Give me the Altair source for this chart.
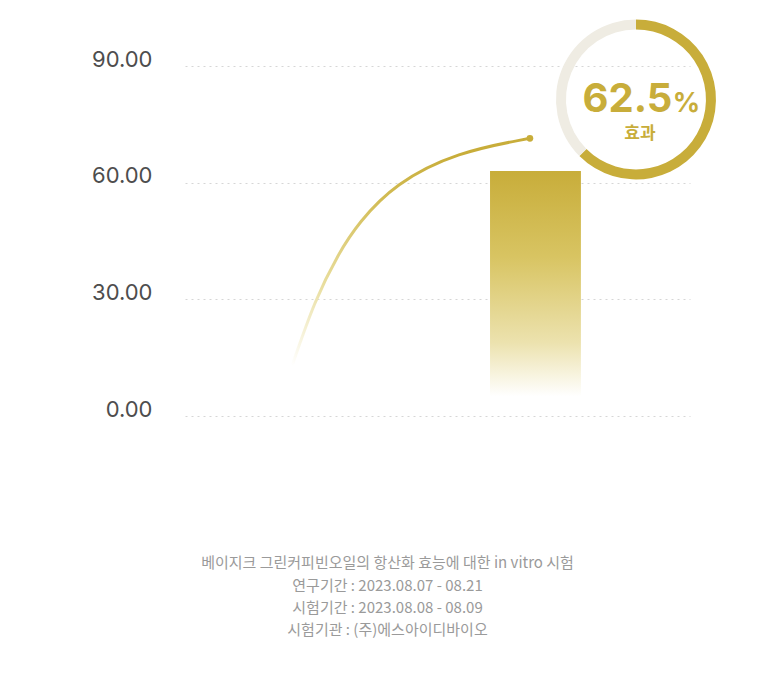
import altair as alt
import pandas as pd

# ---- data ----
curve_x = [21.2, 25.7, 30.4, 34.3, 41.6, 53.9, 68.3]
curve_y = [12.9, 29.8, 41.8, 49.6, 59.8, 67.9, 71.4]

bar_x_start = [60.4]
bar_x_end = [78.4]
bar_value = [63.0]

donut_labels = ["효과", "나머지"]
donut_values = [62.5, 37.5]
donut_colors = ["#C8AD3A", "#EFECE3"]
donut_center_x = [89.3]
donut_center_y = [81.4]

y_ticks = [0, 30, 60, 90]

title_line = "베이지크 그린커피빈오일의 항산화 효능에 대한 in vitro 시험"
subtitle_lines = [
    "연구기간 : 2023.08.07 - 08.21",
    "시험기간 : 2023.08.08 - 08.09",
    "시험기관 : (주)에스아이디바이오",
]

GOLD = "#C8AD3A"

xs = alt.Scale(domain=[0, 100], nice=False)
ys = alt.Scale(domain=[0, 90], nice=False)

curve_df = pd.DataFrame({"x": curve_x, "y": curve_y, "i": list(range(len(curve_x)))})
end_df = pd.DataFrame({"x": [curve_x[-1]], "y": [curve_y[-1]]})
bar_df = pd.DataFrame({"x": bar_x_start, "x2": bar_x_end, "v": bar_value})
donut_df = pd.DataFrame({
    "k": donut_labels, "v": donut_values, "o": [0, 1],
    "cx": donut_center_x * 2, "cy": donut_center_y * 2,
})

bar = alt.Chart(bar_df).mark_rect(
    color=alt.Gradient(
        gradient="linear",
        stops=[
            alt.GradientStop(color="#C8AD3A", offset=0),
            alt.GradientStop(color="#D8C462", offset=0.35),
            alt.GradientStop(color="#ECE2AE", offset=0.7),
            alt.GradientStop(color="#FFFFFF", offset=0.92),
            alt.GradientStop(color="#FFFFFF", offset=1),
        ],
        x1=0, x2=0, y1=0, y2=1,
    )
).encode(
    x=alt.X("x:Q", scale=xs, axis=None),
    x2="x2:Q",
    y=alt.Y("v:Q", scale=ys,
            axis=alt.Axis(values=y_ticks, format=".2f", title=None,
                          domain=False, ticks=False, labelPadding=33,
                          labelFontSize=22, labelColor="#4D4D4D",
                          labelFont="Inter", labelBaseline="alphabetic",
                          grid=True, gridColor="#D6D6D6", gridDash=[2, 4],
                          gridWidth=1)),
    y2=alt.datum(0),
)

line = alt.Chart(curve_df).mark_line(
    interpolate="basis", strokeWidth=3, strokeCap="round",
    stroke=alt.Gradient(
        gradient="linear",
        stops=[
            alt.GradientStop(color="#FFFFFF", offset=0),
            alt.GradientStop(color="#E8DD9C", offset=0.25),
            alt.GradientStop(color="#D2BC55", offset=0.55),
            alt.GradientStop(color="#C8AD3A", offset=0.8),
            alt.GradientStop(color="#C8AD3A", offset=1),
        ],
        x1=0, y1=1, x2=1, y2=0,
    ),
).encode(x=alt.X("x:Q", scale=xs), y=alt.Y("y:Q", scale=ys), order="i:Q")

dot = alt.Chart(end_df).mark_point(filled=True, size=45, color=GOLD, opacity=1).encode(
    x=alt.X("x:Q", scale=xs), y=alt.Y("y:Q", scale=ys)
)

donut = alt.Chart(donut_df).mark_arc(outerRadius=80, innerRadius=70).encode(
    theta=alt.Theta("v:Q", stack=True),
    order=alt.Order("o:Q"),
    color=alt.Color("k:N", scale=alt.Scale(domain=donut_labels, range=donut_colors), legend=None),
    x=alt.X("cx:Q", scale=xs),
    y=alt.Y("cy:Q", scale=ys),
)

num_df = pd.DataFrame({"x": [87.6], "y": [78.3], "t": ["62.5"]})
pct_df = pd.DataFrame({"x": [96.6], "y": [78.3], "t": ["%"]})
eff_df = pd.DataFrame({"x": [90.1], "y": [72.4], "t": ["효과"]})

num_text = alt.Chart(num_df).mark_text(
    font="Inter", fontSize=40, fontWeight="bold", color=GOLD,
    align="center", baseline="alphabetic",
).encode(x=alt.X("x:Q", scale=xs), y=alt.Y("y:Q", scale=ys), text="t:N")

pct_text = alt.Chart(pct_df).mark_text(
    font="Inter", fontSize=27, fontWeight="bold", color=GOLD,
    align="left", baseline="alphabetic",
).encode(x=alt.X("x:Q", scale=xs), y=alt.Y("y:Q", scale=ys), text="t:N")

eff_text = alt.Chart(eff_df).mark_text(
    font="Noto Sans CJK KR", fontSize=17, fontWeight="bold", color=GOLD,
    align="center", baseline="middle",
).encode(x=alt.X("x:Q", scale=xs), y=alt.Y("y:Q", scale=ys), text="t:N")

chart = alt.layer(bar, line, dot, donut, num_text, pct_text, eff_text).properties(
    width=505,
    height=350,
    autosize=alt.AutoSizeParams(type="none"),
    padding={"left": 177, "top": 58, "right": 80, "bottom": 250},
    title=alt.TitleParams(
        text=title_line,
        subtitle=subtitle_lines,
        orient="bottom",
        anchor="middle",
        frame="group",
        dx=-50,
        offset=136,
        font="Noto Sans CJK KR",
        fontSize=15,
        fontWeight="normal",
        color="#9A9A9A",
        subtitleFont="Noto Sans CJK KR",
        subtitleFontSize=15,
        subtitleColor="#9A9A9A",
        subtitleLineHeight=22,
        subtitlePadding=8,
    ),
).configure(background="#FFFFFF").configure_view(stroke=None)

chart.save("out.html", embed_options={"renderer": "svg", "actions": False})
